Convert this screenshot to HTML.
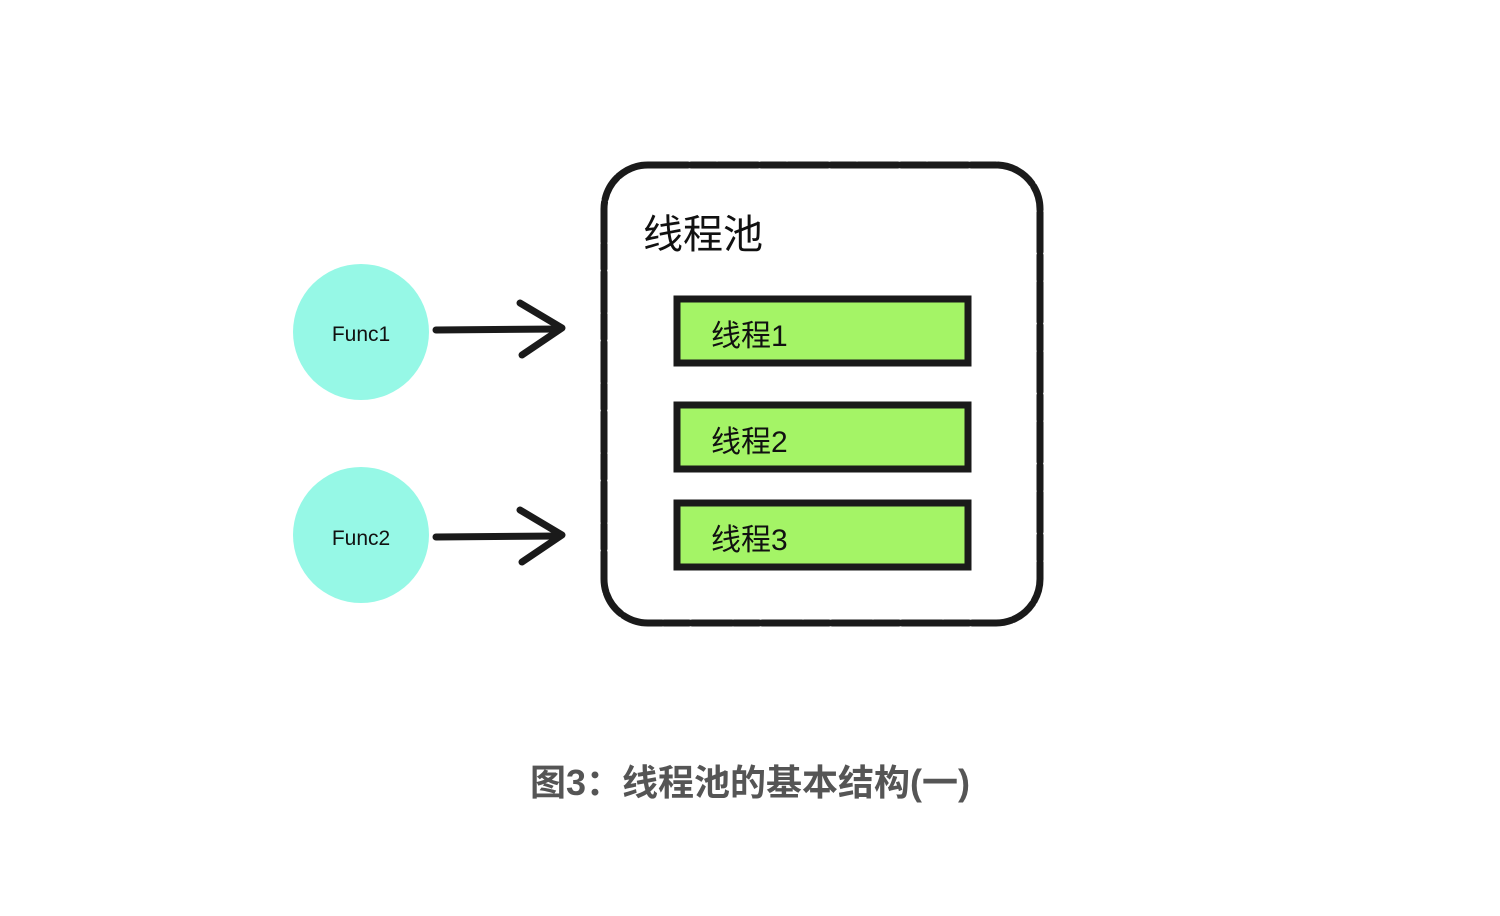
<!DOCTYPE html>
<html><head><meta charset="utf-8"><style>
html,body{margin:0;padding:0;background:#fff;}
svg{display:block}
text{font-family:"Liberation Sans","Noto Sans CJK SC",sans-serif;}
</style></head><body>
<svg width="1500" height="916" viewBox="0 0 1500 916" xmlns="http://www.w3.org/2000/svg">
<circle cx="361" cy="332" r="68" fill="#96f8e6"/>
<circle cx="361" cy="535" r="68" fill="#96f8e6"/>
<text x="361" y="341" font-size="21" text-anchor="middle" fill="#111">Func1</text>
<text x="361" y="545" font-size="21" text-anchor="middle" fill="#111">Func2</text>
<g stroke="#1a1a1a" stroke-width="7" fill="none" stroke-linecap="round" stroke-linejoin="round">
<path d="M436 330 L560 329"/>
<path d="M520 303 L562 328 L522 355"/>
<path d="M436 537 L560 536"/>
<path d="M520 510 L562 535 L522 562"/>
<rect x="604" y="165" width="436" height="458" rx="44" stroke-dasharray="40 3 25 2"/>
</g>
<g stroke="#1a1a1a" stroke-width="7" fill="#a4f466">
<rect x="677" y="299" width="291" height="64"/>
<rect x="677" y="405" width="291" height="64"/>
<rect x="677" y="503" width="291" height="64"/>
</g>
<text x="643" y="248" font-size="40" fill="#111">线程池</text>
<text x="711" y="346" font-size="30" fill="#111">线程1</text>
<text x="711" y="452" font-size="30" fill="#111">线程2</text>
<text x="711" y="550" font-size="30" fill="#111">线程3</text>
<text x="750" y="795" font-size="36" font-weight="bold" text-anchor="middle" fill="#555">图3：线程池的基本结构(一)</text>
</svg>
</body></html>
